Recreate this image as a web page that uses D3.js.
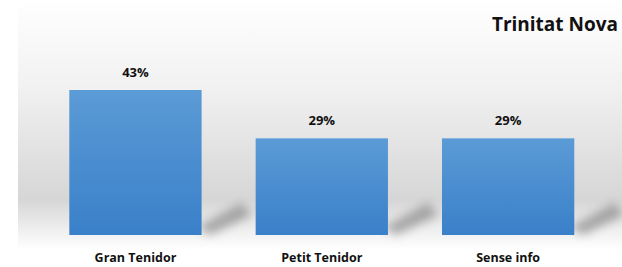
<!DOCTYPE html>
<html lang="ca">
<head>
<meta charset="UTF-8">
<title>Trinitat Nova</title>
<script src="https://cdnjs.cloudflare.com/ajax/libs/d3/7.8.5/d3.min.js"></script>
<style>
    body { margin: 0; background: #fff; overflow: hidden; }
    text { font-family: "Open Sans", "Noto Sans", sans-serif; font-weight: bold; fill: #111; }
</style>
</head>
<body>
<div id="chart"></div>
<script>
    // dades (les etiquetes són arrodonides; les alçades llegides de les barres)
    const categories = ["Gran Tenidor", "Petit Tenidor", "Sense info"];
    const values = [42.9, 28.6, 28.6];
    const labels = ["43%", "29%", "29%"];
    const title = "Trinitat Nova";

    const width = 622, height = 267;
    const baseY = 235;

    const svg = d3.select("#chart").append("svg")
        .attr("width", width)
        .attr("height", height);

    const defs = svg.append("defs");

    const bg = defs.append("linearGradient")
        .attr("id", "bg").attr("x1", 0).attr("y1", 0).attr("x2", 0).attr("y2", 1);
    bg.append("stop").attr("offset", "0%").attr("stop-color", "#ffffff");
    bg.append("stop").attr("offset", "35%").attr("stop-color", "#f1f1f1");
    bg.append("stop").attr("offset", "80%").attr("stop-color", "#d6d6d6");
    bg.append("stop").attr("offset", "92%").attr("stop-color", "#efefef");
    bg.append("stop").attr("offset", "100%").attr("stop-color", "#ffffff");

    const barGrad = defs.append("linearGradient")
        .attr("id", "barGrad").attr("x1", 0).attr("y1", 0).attr("x2", 0).attr("y2", 1);
    barGrad.append("stop").attr("offset", "0%").attr("stop-color", "#5b9bd6");
    barGrad.append("stop").attr("offset", "100%").attr("stop-color", "#3a80c9");

    defs.append("filter").attr("id", "blur")
        .attr("x", "-50%").attr("y", "-50%").attr("width", "200%").attr("height", "200%")
        .append("feGaussianBlur").attr("stdDeviation", 5);

    svg.append("rect")
        .attr("x", 18).attr("y", 0)
        .attr("width", width - 18).attr("height", 250)
        .attr("fill", "url(#bg)");

    const x = d3.scaleBand()
        .domain(categories)
        .range([42.3, 601.3])
        .paddingInner(0.29)
        .paddingOuter(0.145);

    const y = d3.scaleLinear()
        .domain([0, 42.9])
        .range([baseY, 90]);

    // ombres
    svg.append("g").selectAll("path")
        .data(categories)
        .join("path")
        .attr("d", d => {
            const r = x(d) + x.bandwidth();
            return `M${r - 4},${baseY - 8} L${r + 40},${baseY - 32} L${r + 50},${baseY - 20} L${r + 8},${baseY} Z`;
        })
        .attr("fill", "#7a7a7a")
        .attr("opacity", 0.6)
        .attr("filter", "url(#blur)");

    svg.append("g").selectAll("rect")
        .data(values)
        .join("rect")
        .attr("x", (d, i) => x(categories[i]))
        .attr("y", d => y(d))
        .attr("width", x.bandwidth())
        .attr("height", d => baseY - y(d))
        .attr("fill", "url(#barGrad)");

    svg.append("g").selectAll("text")
        .data(values)
        .join("text")
        .attr("x", (d, i) => x(categories[i]) + x.bandwidth() / 2)
        .attr("y", d => y(d) - 13)
        .attr("text-anchor", "middle")
        .attr("font-size", 13)
        .text((d, i) => labels[i]);

    svg.append("g").selectAll("text")
        .data(categories)
        .join("text")
        .attr("x", d => x(d) + x.bandwidth() / 2)
        .attr("y", 262)
        .attr("text-anchor", "middle")
        .attr("font-size", 12.5)
        .text(d => d);

    svg.append("text")
        .attr("x", 618)
        .attr("y", 31)
        .attr("text-anchor", "end")
        .attr("font-size", 19)
        .text(title);
</script>
</body>
</html>
